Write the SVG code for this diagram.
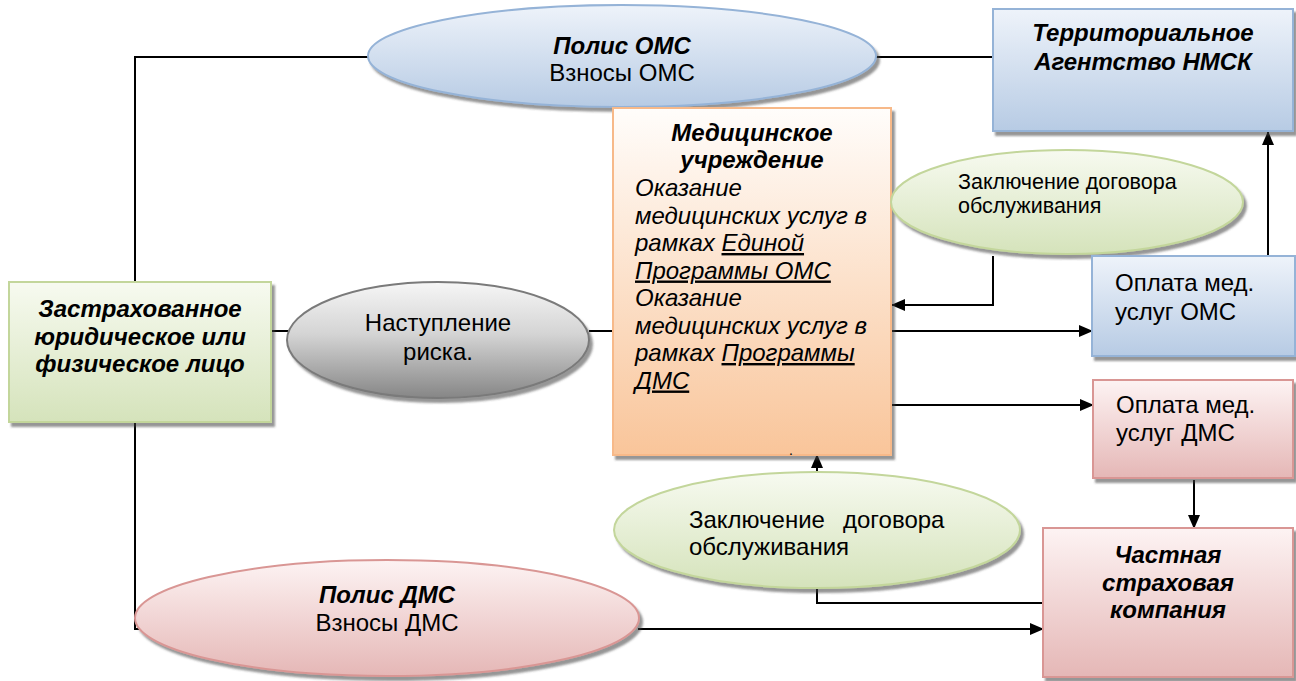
<svg xmlns="http://www.w3.org/2000/svg" width="1296" height="681" viewBox="0 0 1296 681">
<defs>
<linearGradient id="gBlue" x1="0" y1="0" x2="0" y2="1"><stop offset="0" stop-color="#eef3fa"/><stop offset="1" stop-color="#b7cbe4"/></linearGradient>
<linearGradient id="gGreen" x1="0" y1="0" x2="0" y2="1"><stop offset="0" stop-color="#f7faf0"/><stop offset="1" stop-color="#d5e3bb"/></linearGradient>
<linearGradient id="gPink" x1="0" y1="0" x2="0" y2="1"><stop offset="0" stop-color="#fdf3f3"/><stop offset="1" stop-color="#e5b7b6"/></linearGradient>
<linearGradient id="gOrange" x1="0" y1="0" x2="0" y2="1"><stop offset="0" stop-color="#fffdfb"/><stop offset="1" stop-color="#f9c59a"/></linearGradient>
<linearGradient id="gGrey" x1="0" y1="0" x2="0" y2="1"><stop offset="0" stop-color="#f6f6f6"/><stop offset="0.45" stop-color="#d4d4d4"/><stop offset="1" stop-color="#868686"/></linearGradient>
<filter id="sh" x="-10%" y="-10%" width="125%" height="130%"><feDropShadow dx="3" dy="4" stdDeviation="1" flood-color="#404040" flood-opacity="0.55"/></filter>
<marker id="ah" markerUnits="userSpaceOnUse" markerWidth="14" markerHeight="12" refX="13" refY="6" orient="auto"><path d="M0,0 L14,6 L0,12 Z" fill="#000"/></marker>
<style>
.t{font-family:"Liberation Sans",Arial,sans-serif;fill:#000;font-size:24px}
.b{font-weight:bold;font-style:italic}
.i{font-style:italic}
.c{text-anchor:middle}
.u{text-decoration:underline}
.ln{fill:none;stroke:#000;stroke-width:2}
.blue{fill:url(#gBlue);stroke:#95b3d7;stroke-width:2;filter:url(#sh)}
.green{fill:url(#gGreen);stroke:#c3d69b;stroke-width:2;filter:url(#sh)}
.pink{fill:url(#gPink);stroke:#d99694;stroke-width:2;filter:url(#sh)}
.orange{fill:url(#gOrange);stroke:#f7b989;stroke-width:2;filter:url(#sh)}
.grey{fill:url(#gGrey);stroke:#7a7a7a;stroke-width:2;filter:url(#sh)}
</style>
</defs>
<rect width="1296" height="681" fill="#fff"/>
<g id="connectors">
<polyline class="ln" points="368,57 135,57 135,282"/>
<line class="ln" x1="876" y1="57" x2="993" y2="57"/>
<line class="ln" x1="271" y1="331" x2="288" y2="331"/>
<line class="ln" x1="589" y1="331" x2="613" y2="331"/>
<polyline class="ln" points="993,256 993,305 892,305" marker-end="url(#ah)"/>
<line class="ln" x1="892" y1="331" x2="1092" y2="331" marker-end="url(#ah)"/>
<line class="ln" x1="892" y1="405" x2="1093" y2="405" marker-end="url(#ah)"/>
<line class="ln" x1="1268" y1="256" x2="1268" y2="132" marker-end="url(#ah)"/>
<line class="ln" x1="1194" y1="480" x2="1194" y2="528" marker-end="url(#ah)"/>
<line class="ln" x1="817" y1="472" x2="817" y2="455" marker-end="url(#ah)"/>
<polyline class="ln" points="817,580 817,603 1043,603"/>
<polyline class="ln" points="135,422 135,629 150,629"/>
<line class="ln" x1="638" y1="629" x2="1043" y2="629" marker-end="url(#ah)"/>
</g>
<g id="polis-oms">
<ellipse class="blue" cx="622" cy="56" rx="254" ry="51"/>
<text class="t b c" x="622" y="54">Полис ОМС</text>
<text class="t c" x="622" y="81">Взносы ОМС</text>
</g>
<g id="territorial">
<rect class="blue" x="993" y="9" width="300" height="122"/>
<text class="t b c" x="1143" y="41">Территориальное</text>
<text class="t b c" x="1143" y="70">Агентство НМСК</text>
</g>
<g id="insured">
<rect class="green" x="9" y="282" width="262" height="140"/>
<text class="t b c" x="140" y="317">Застрахованное</text>
<text class="t b c" x="140" y="345">юридическое или</text>
<text class="t b c" x="140" y="372">физическое лицо</text>
</g>
<g id="risk">
<ellipse class="grey" cx="438" cy="340" rx="151" ry="58"/>
<text class="t c" x="438" y="331">Наступление</text>
<text class="t c" x="438" y="360">риска.</text>
</g>
<g id="medical">
<rect class="orange" x="613" y="108" width="278" height="347"/>
<text class="t b c" x="752" y="141">Медицинское</text>
<text class="t b c" x="752" y="168">учреждение</text>
<text class="t i" x="635" y="196">Оказание</text>
<text class="t i" x="635" y="223.5">медицинских услуг в</text>
<text class="t i" x="635" y="251">рамках <tspan class="u">Единой</tspan></text>
<text class="t i u" x="635" y="278.5">Программы ОМС</text>
<text class="t i" x="635" y="306">Оказание</text>
<text class="t i" x="635" y="333.5">медицинских услуг в</text>
<text class="t i" x="635" y="361">рамках <tspan class="u">Программы</tspan></text>
<text class="t i u" x="635" y="388.5">ДМС</text>
<text class="t" x="789" y="455" style="font-size:14px">.</text>
</g>
<g id="contract-oms">
<ellipse class="green" cx="1067" cy="202" rx="176" ry="52"/>
<text class="t" x="958" y="189" style="font-size:21.5px">Заключение договора</text>
<text class="t" x="958" y="213" style="font-size:21.5px">обслуживания</text>
</g>
<g id="pay-oms">
<rect class="blue" x="1092" y="256" width="203" height="100"/>
<text class="t" x="1115" y="291">Оплата мед.</text>
<text class="t" x="1115" y="320">услуг ОМС</text>
</g>
<g id="pay-dms">
<rect class="pink" x="1093" y="380" width="200" height="98"/>
<text class="t" x="1116" y="413">Оплата мед.</text>
<text class="t" x="1116" y="441">услуг ДМС</text>
</g>
<g id="contract-dms">
<ellipse class="green" cx="817" cy="530" rx="203" ry="58"/>
<text class="t" x="689" y="528">Заключение<tspan x="843">договора</tspan></text>
<text class="t" x="689" y="555">обслуживания</text>
</g>
<g id="private-insurer">
<rect class="pink" x="1043" y="528" width="250" height="149"/>
<text class="t b c" x="1168" y="563">Частная</text>
<text class="t b c" x="1168" y="591">страховая</text>
<text class="t b c" x="1168" y="618">компания</text>
</g>
<g id="polis-dms">
<ellipse class="pink" cx="387" cy="618" rx="252" ry="58"/>
<text class="t b c" x="387" y="603">Полис ДМС</text>
<text class="t c" x="387" y="631">Взносы ДМС</text>
</g>
</svg>
